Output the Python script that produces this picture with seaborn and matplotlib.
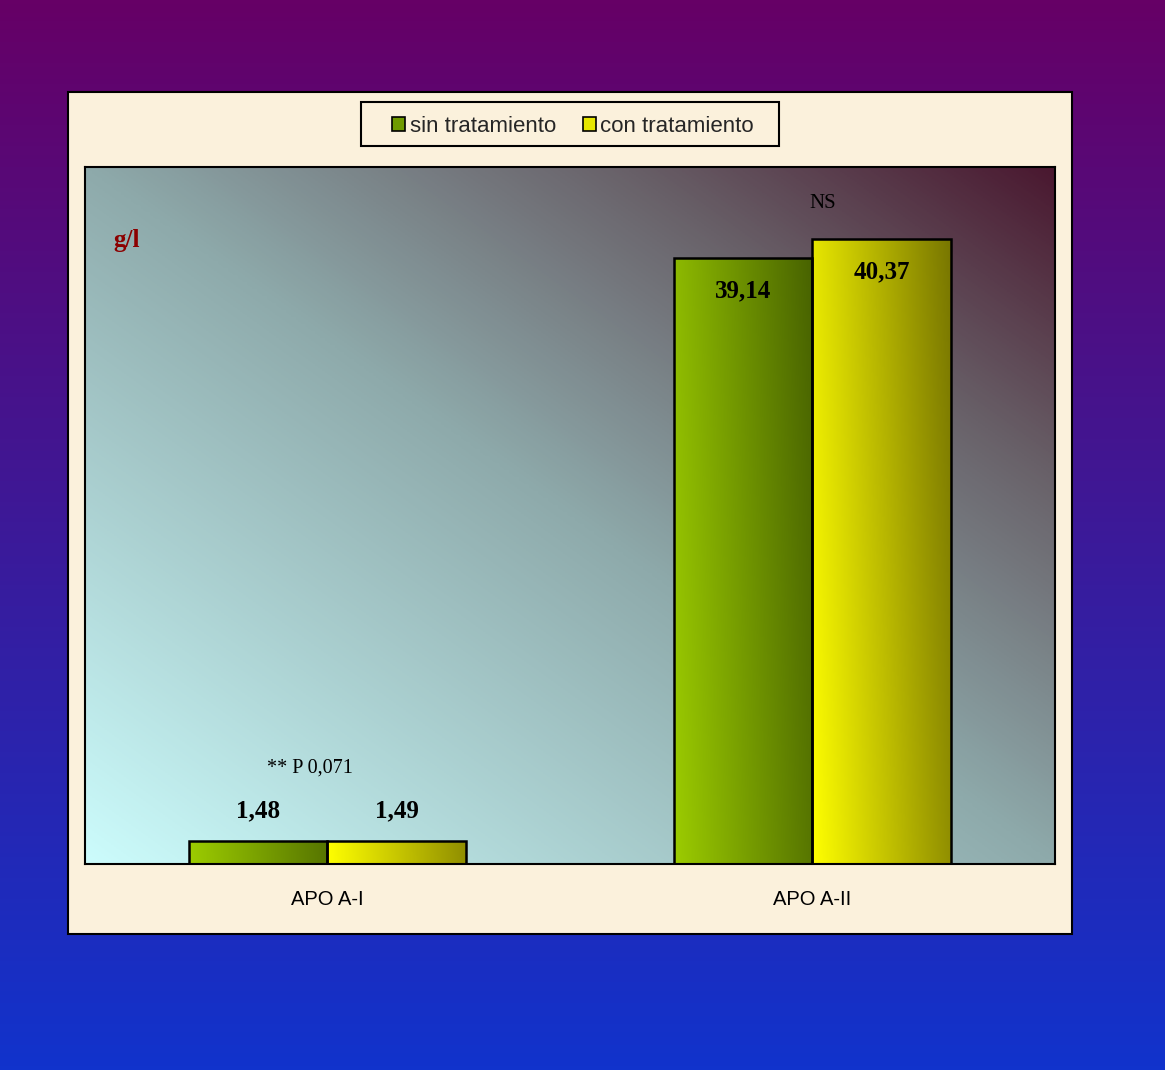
import numpy as np
import pandas as pd
import matplotlib
matplotlib.use("Agg")
import matplotlib.pyplot as plt
import seaborn as sns
from matplotlib.patches import Rectangle, Patch
from matplotlib.colors import LinearSegmentedColormap

# --- datos ---
categorias = ["APO A-I", "APO A-II"]
grupos = ["sin tratamiento", "con tratamiento"]
sin_tratamiento = [1.48, 39.14]
con_tratamiento = [1.49, 40.37]
unidad = "g/l"
nota_apo_a1 = "** P 0,071"
nota_apo_a2 = "NS"

df = pd.DataFrame({
    "categoria": categorias * 2,
    "grupo": [grupos[0]] * 2 + [grupos[1]] * 2,
    "valor": sin_tratamiento + con_tratamiento,
})

SANS = ["Liberation Sans", "DejaVu Sans"]
SERIF = ["Liberation Serif", "DejaVu Serif"]
BEIGE = "#fbf1dc"

sns.set_style("white")
plt.rcParams["font.family"] = SANS

fig = plt.figure(figsize=(11.65, 10.70), dpi=100)

# fondo degradado violeta -> azul
bg = fig.add_axes([0, 0, 1, 1], zorder=-3)
bg.axis("off")
cmap_fondo = LinearSegmentedColormap.from_list("fondo", ["#660066", "#1133cc"])
bg.imshow(np.linspace(0, 1, 256)[:, None], aspect="auto", cmap=cmap_fondo,
          extent=[0, 1, 0, 1], origin="upper")

# panel crema
fig.add_artist(Rectangle((0.05837, 0.1271), 0.8618, 0.7869, transform=fig.transFigure,
                         facecolor=BEIGE, edgecolor="black", lw=1.5, zorder=-2))

ax = fig.add_axes([0.07296, 0.19252, 0.8326, 0.6514])
colores = {grupos[0]: "#6f9a00", grupos[1]: "#e6e600"}
sns.barplot(data=df, x="categoria", y="valor", hue="grupo", order=categorias,
            hue_order=grupos, palette=colores, width=0.571, gap=0, legend=False,
            edgecolor="black", linewidth=1.8, saturation=1, ax=ax)

YMAX = 45
ax.set_xlim(-0.5, 1.5)
ax.set_ylim(0, YMAX)

# degradado diagonal del área de trazado
n = 400
X, Y = np.meshgrid(np.linspace(0, 1, n), np.linspace(0, 1, n))
cmap_area = LinearSegmentedColormap.from_list(
    "area", [(0, "#ccfcfc"), (0.5, "#8eaaab"), (0.78, "#686068"), (1, "#4a1830")])
ax.imshow((X + Y) / 2, origin="lower", extent=[0, 1, 0, 1], transform=ax.transAxes,
          aspect="auto", cmap=cmap_area, zorder=0)

# degradados de las barras
cmaps_barra = {
    grupos[0]: LinearSegmentedColormap.from_list("verde", ["#9ccc00", "#466000"]),
    grupos[1]: LinearSegmentedColormap.from_list("amarillo", ["#ffff00", "#767400"]),
}
for grupo, cont in zip(grupos, ax.containers):
    for barra in cont:
        x0, y0 = barra.get_x(), barra.get_y()
        w, h = barra.get_width(), barra.get_height()
        gx, gy = np.meshgrid(np.linspace(0, 1, 100), np.linspace(y0, y0 + h, 200))
        t = np.clip(0.8 * gx + 0.2 * gy / YMAX, 0, 1)
        img = ax.imshow(t, origin="lower", extent=[x0, x0 + w, y0, y0 + h],
                        aspect="auto", cmap=cmaps_barra[grupo], vmin=0, vmax=1, zorder=1.5)
        img.set_clip_path(barra)
        barra.set_facecolor("none")
        barra.set_zorder(2)

ax.set_xlim(-0.5, 1.5)
ax.set_ylim(0, YMAX)

# etiquetas de valor
for cont in ax.containers:
    for barra in cont:
        v = barra.get_height()
        xc = barra.get_x() + barra.get_width() / 2
        txt = f"{v:.2f}".replace(".", ",")
        dy = -28.5 if v > 10 else 17
        ax.annotate(txt, (xc, v), xytext=(0, dy), textcoords="offset points",
                    ha="center", va="baseline", fontsize=18, fontweight="bold",
                    family=SERIF, color="black", zorder=5)

ax.text(1.022, 42.67, nota_apo_a2, ha="center", va="center", fontsize=15,
        family=SERIF, color="black")
ax.text(-0.036, 6.2, nota_apo_a1, ha="center", va="center", fontsize=14.5,
        family=SERIF, color="black")
ax.text(0.0433, 0.895, unidad, transform=ax.transAxes, ha="center", va="center",
        fontsize=18, fontweight="bold", family=SERIF, color="#8b0000")

ax.set_xlabel("")
ax.set_ylabel("")
ax.set_yticks([])
ax.tick_params(axis="x", length=0, pad=19, labelsize=14.5, labelcolor="black")
for s in ax.spines.values():
    s.set_color("black")
    s.set_linewidth(1.5)

# leyenda con marco propio
fig.add_artist(Rectangle((0.30987, 0.86355), 0.3588, 0.04112, transform=fig.transFigure,
                         facecolor=BEIGE, edgecolor="black", lw=1.5, zorder=2))
handles = [Patch(facecolor=colores[g], edgecolor="black", linewidth=1.2) for g in grupos]
leg = fig.legend(handles, grupos, loc="center", bbox_to_anchor=(0.4918, 0.8822),
                 ncol=2, frameon=False, fontsize=16, handlelength=0.6,
                 handleheight=0.6, handletextpad=0.2, columnspacing=1.2, borderpad=0.2)
leg.set_zorder(3)

fig.savefig("out.png", dpi=100)
